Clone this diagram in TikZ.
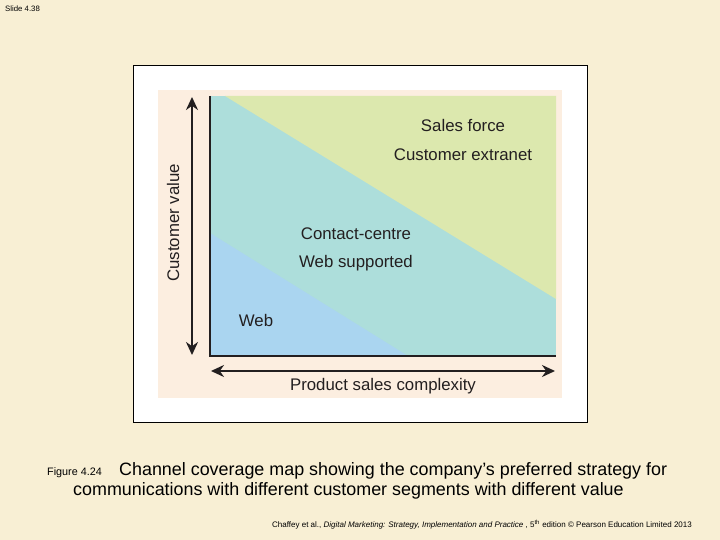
\documentclass[tikz,border=0pt]{standalone}
\usepackage{fontspec}
\setmainfont{Liberation Sans}
\usetikzlibrary{arrows.meta}
\definecolor{slidebg}{HTML}{F8EFD4}
\definecolor{panel}{HTML}{FCEEE0}
\definecolor{greenr}{HTML}{DCE8AE}
\definecolor{tealr}{HTML}{ADDEDB}
\definecolor{bluer}{HTML}{AAD5F0}
\definecolor{ink}{HTML}{231F20}
\tikzset{lbl/.style={text=ink,font=\fontsize{16.8}{18}\selectfont,inner sep=0pt},
 axarrow/.style={line width=2.6pt,draw=ink,{Stealth[length=13pt,width=12pt]}-{Stealth[length=13pt,width=12pt]}}}
\begin{document}
\begin{tikzpicture}[x=1pt,y=-1pt]
\useasboundingbox (0,0) rectangle (720,540);
\fill[slidebg] (0,0) rectangle (720,540);
\draw[fill=white,line width=0.8pt] (133,65) rectangle (587,422);
\fill[panel] (158,90) rectangle (562,398);
\fill[tealr] (210,96) rectangle (556,356);
\fill[greenr] (225,96) -- (556,96) -- (556,299) -- cycle;
\fill[bluer] (210,233) -- (408,356) -- (210,356) -- cycle;
\draw[ink,line width=1.2pt] (210,96) -- (210,356) -- (556,356);
\coordinate (vt) at (192,97);
\coordinate (vb) at (192,355);
\coordinate (hl) at (211,371);
\coordinate (hr) at (555,371);
\draw[axarrow] (vt) -- (vb);
\draw[axarrow] (hl) -- (hr);
\node[lbl] (sf) at (463,125) {Sales force};
\node[lbl] (ce) at (463,155) {Customer extranet};
\node[lbl] (cc) at (356,234) {Contact-centre};
\node[lbl] (ws) at (356,263) {Web supported};
\node[lbl] (web) at (256,320) {Web};
\node[lbl] (psc) at (383,386) {Product sales complexity};
\node[lbl,rotate=90] (cv) at (173,223) {Customer value};
\node[font=\fontsize{7.8}{9}\selectfont,anchor=west,inner sep=0pt] (slide) at (5,9) {Slide 4.38};
\node[font=\fontsize{10.8}{12}\selectfont,anchor=west,inner sep=0pt] (fig) at (47,473) {Figure 4.24};
\node[font=\fontsize{17.9}{20}\selectfont,anchor=west,inner sep=0pt] (c1) at (119,471) {Channel coverage map showing the company’s preferred strategy for};
\node[font=\fontsize{17.9}{20}\selectfont,anchor=west,inner sep=0pt] (c2) at (73,491) {communications with different customer segments with different value};
\node[font=\fontsize{8}{9}\selectfont,anchor=west,inner sep=0pt] (cite) at (272,525) {Chaffey et al., \textit{Digital Marketing: Strategy, Implementation and Practice} , 5\textsuperscript{th} edition © Pearson Education Limited 2013};
\end{tikzpicture}
\end{document}
